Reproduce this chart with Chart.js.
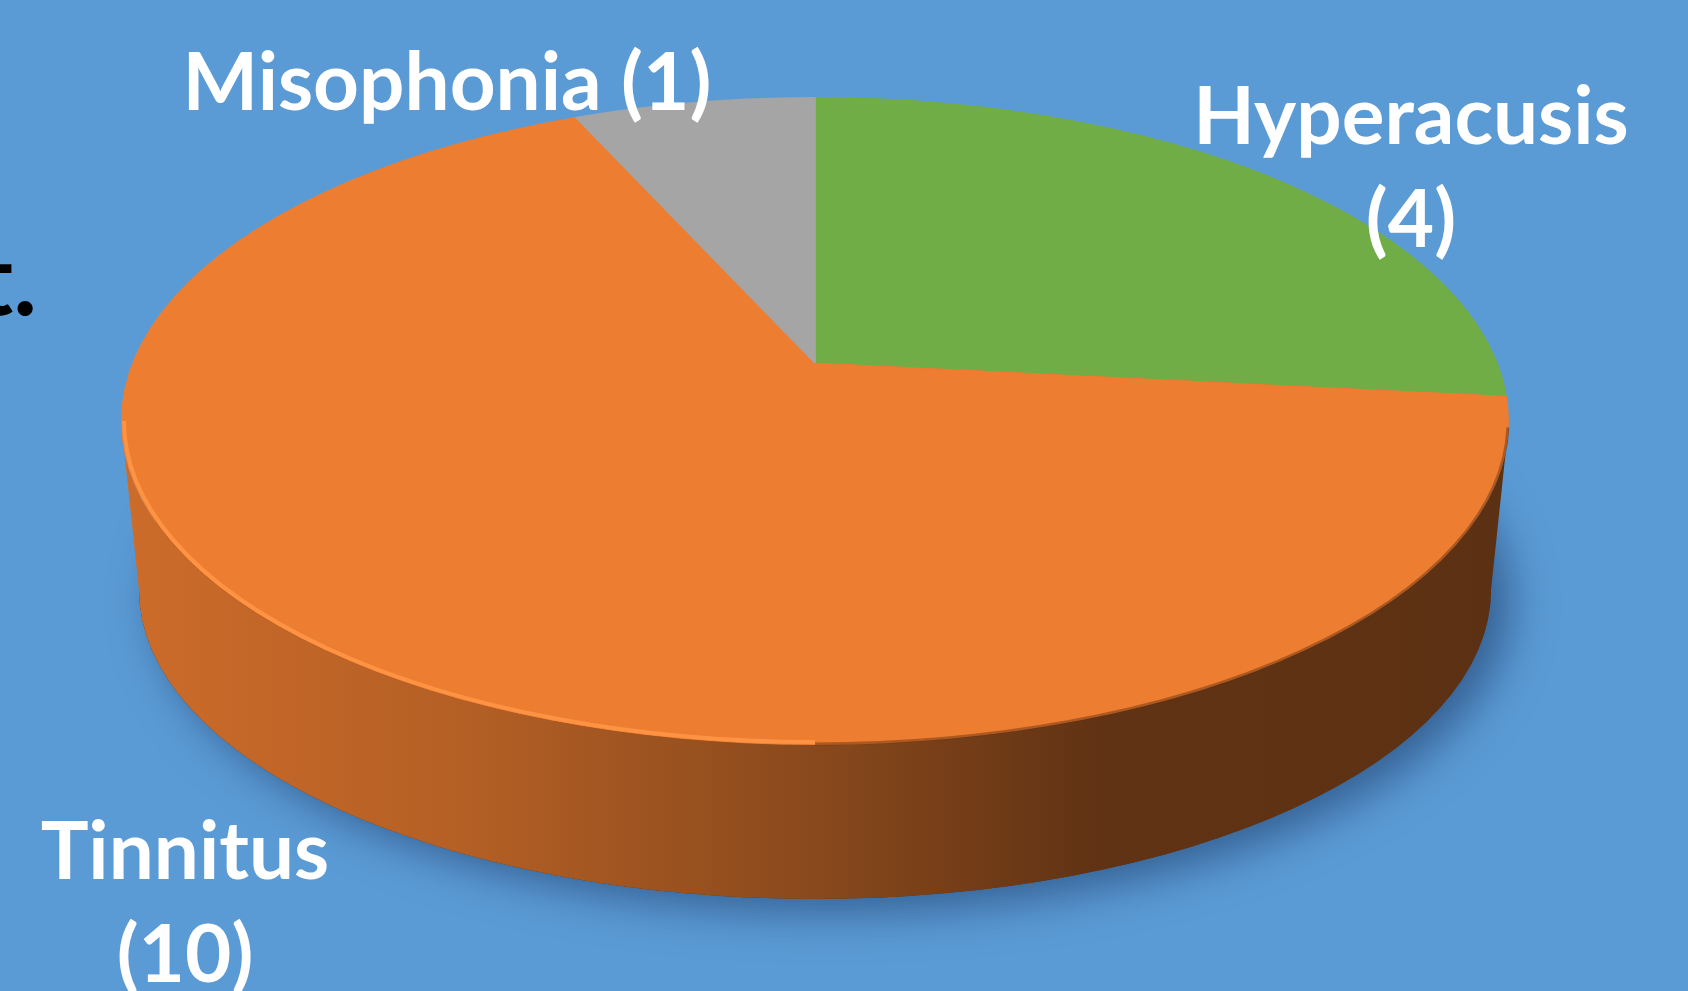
<!DOCTYPE html>
<html>
<head>
<meta charset="utf-8">
<script src="https://cdn.jsdelivr.net/npm/chart.js@4.4.1/dist/chart.umd.min.js"></script>
<style>
  html, body { margin: 0; padding: 0; background: #5B9BD5; overflow: hidden; }
  #wrap { position: relative; width: 1688px; height: 991px; }
</style>
</head>
<body>
<div id="wrap"><canvas id="pieChart"></canvas></div>
<script>
// Hearing conditions in the group
const categories = ['Hyperacusis', 'Tinnitus', 'Misophonia'];
const counts = [4, 10, 1];
const sliceColors = ['#70AD47', '#ED7D31', '#A5A5A5'];

// label spots on the slide (center x, first baseline); wrap puts the count on a 2nd line
const labelSpots = [
  { x: 1411, y: 144, wrap: true },
  { x: 185, y: 879, wrap: true },
  { x: 447, y: 110, wrap: false }
];

// fake 3D: top outline ellipse, pie center seen in perspective (apex), bottom outline
const tilt = { cx: 815, cy: 421, rx: 694, ry: 324, apexY: 363, squash: 0.457, reach: 900 };
const base = { cx: 815, cy: 590, rx: 676, ry: 309 };

function shade(hex, f) {
  const n = parseInt(hex.slice(1), 16);
  const r = Math.round(((n >> 16) & 255) * f);
  const g = Math.round(((n >> 8) & 255) * f);
  const b = Math.round((n & 255) * f);
  return `rgb(${r},${g},${b})`;
}

// where a slice edge (canvas angle phi, around the apex) hits the outline -> ellipse parameter
function outlineParam(phi) {
  const { cx, cy, rx, ry, apexY, squash } = tilt;
  const dx = Math.cos(phi), dy = squash * Math.sin(phi);
  const oy = apexY - cy;
  const A = dx * dx / (rx * rx) + dy * dy / (ry * ry);
  const B = 2 * oy * dy / (ry * ry);
  const C = oy * oy / (ry * ry) - 1;
  const t = (-B + Math.sqrt(B * B - 4 * A * C)) / (2 * A);
  const px = t * dx, py = oy + t * dy;
  return Math.atan2(py / ry, px / rx);
}

const pie3d = {
  id: 'pie3d',
  beforeDatasetsDraw(chart) {
    const ctx = chart.ctx;
    const arcs = chart.getDatasetMeta(0).data;
    const { cx, cy, rx, ry } = tilt;

    // soft drop shadow under the disc
    ctx.save();
    ctx.shadowColor = 'rgba(20,45,90,0.55)';
    ctx.shadowBlur = 45;
    ctx.shadowOffsetX = 18;
    ctx.shadowOffsetY = 12;
    ctx.fillStyle = '#5a3013';
    ctx.beginPath();
    ctx.ellipse(base.cx, base.cy, base.rx, base.ry, 0, 0, Math.PI * 2);
    ctx.fill();
    ctx.restore();

    // side walls, only the front half is visible
    arcs.forEach((arc, i) => {
      const ps = outlineParam(arc.startAngle);
      let pe = outlineParam(arc.endAngle);
      while (pe <= ps) pe += Math.PI * 2;
      [0, Math.PI * 2].forEach(off => {
        const s = Math.max(ps, off);
        const e = Math.min(pe, off + Math.PI);
        if (e <= s) return;
        const grad = ctx.createLinearGradient(cx - rx, 0, cx + rx, 0);
        const col = sliceColors[i];
        grad.addColorStop(0, shade(col, 0.86));
        grad.addColorStop(0.25, shade(col, 0.76));
        grad.addColorStop(0.5, shade(col, 0.58));
        grad.addColorStop(0.7, shade(col, 0.41));
        grad.addColorStop(1, shade(col, 0.39));
        ctx.save();
        ctx.fillStyle = grad;
        ctx.beginPath();
        ctx.ellipse(cx, cy, rx, ry, 0, s, e);
        ctx.ellipse(base.cx, base.cy, base.rx, base.ry, 0, e, s, true);
        ctx.closePath();
        ctx.fill();
        ctx.restore();
      });
    });

    // top face: library pie, stretched around the apex and clipped to the outline
    const a0 = arcs[0];
    ctx.save();
    ctx.beginPath();
    ctx.ellipse(cx, cy, rx, ry, 0, 0, Math.PI * 2);
    ctx.clip();
    ctx.translate(cx, tilt.apexY);
    ctx.scale(tilt.reach / a0.outerRadius, tilt.reach * tilt.squash / a0.outerRadius);
    ctx.translate(-a0.x, -a0.y);
  },
  afterDatasetsDraw(chart) {
    const ctx = chart.ctx;
    ctx.restore();
    const { cx, cy, rx, ry } = tilt;

    // light rim on the front-left edge
    ctx.save();
    ctx.strokeStyle = 'rgba(255,150,70,0.9)';
    ctx.lineWidth = 4;
    ctx.beginPath();
    ctx.ellipse(cx, cy, rx - 3, ry - 3, 0, Math.PI * 0.5, Math.PI * 1.0);
    ctx.stroke();
    // darker soft edge on the front-right
    ctx.strokeStyle = 'rgba(90,45,15,0.45)';
    ctx.lineWidth = 3;
    ctx.beginPath();
    ctx.ellipse(cx, cy, rx - 1, ry - 1, 0, 0.02, Math.PI * 0.5);
    ctx.stroke();
    ctx.restore();
  },
  afterDraw(chart) {
    const ctx = chart.ctx;
    ctx.save();
    ctx.fillStyle = '#ffffff';
    ctx.textAlign = 'center';
    ctx.textBaseline = 'alphabetic';
    ctx.font = 'bold 80px Lato';
    categories.forEach((name, i) => {
      const spot = labelSpots[i];
      const num = '(' + counts[i] + ')';
      if (spot.wrap) {
        ctx.fillText(name, spot.x, spot.y);
        ctx.fillText(num, spot.x, spot.y + 103);
      } else {
        ctx.fillText(name + ' ' + num, spot.x, spot.y);
      }
    });
    // clipped slide text peeking in at the left edge
    ctx.fillStyle = '#000000';
    ctx.textAlign = 'right';
    ctx.font = 'bold 100px Lato';
    ctx.fillText('t.', 37, 315);
    ctx.restore();
  }
};

function drawChart() {
  const ctx = document.getElementById('pieChart').getContext('2d');
  new Chart(ctx, {
    type: 'pie',
    data: {
      labels: categories,
      datasets: [{
        data: counts,
        backgroundColor: sliceColors,
        borderColor: sliceColors,
        borderWidth: 1
      }]
    },
    options: {
      responsive: true,
      maintainAspectRatio: false,
      animation: false,
      events: [],
      layout: { padding: 0 },
      plugins: {
        legend: { display: false },
        tooltip: { enabled: false }
      }
    },
    plugins: [pie3d]
  });
}

document.fonts.load('bold 80px Lato').then(drawChart, drawChart);
</script>
</body>
</html>
